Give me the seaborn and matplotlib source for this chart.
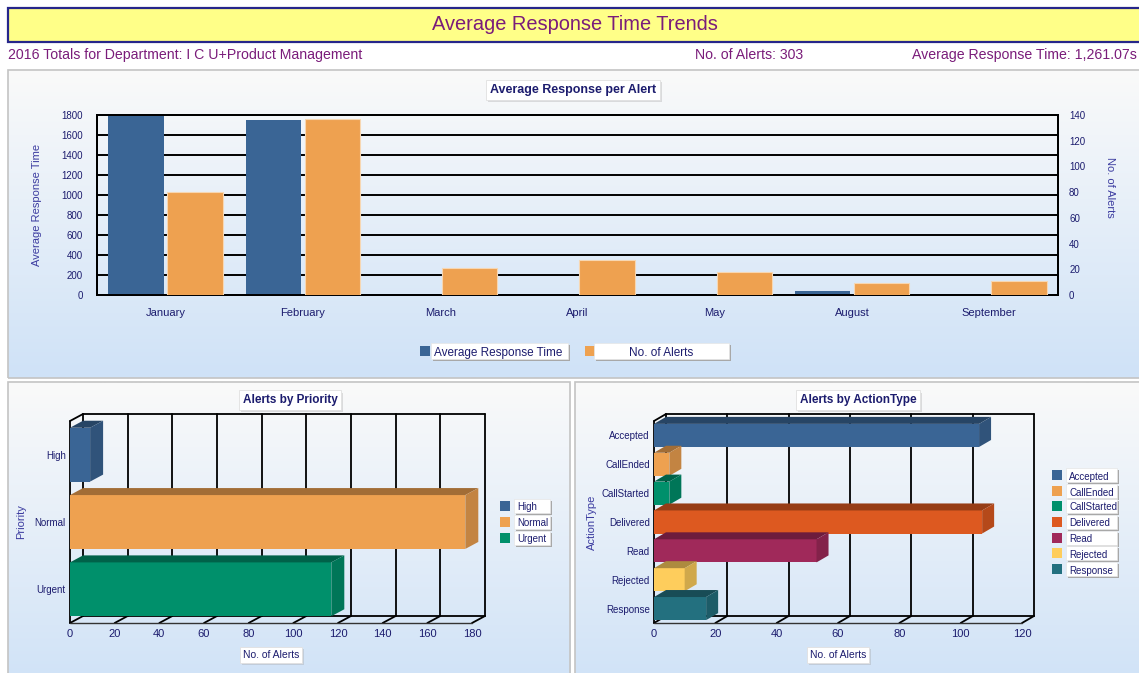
"""Average response time trends dashboard, recreated with seaborn."""

import matplotlib

matplotlib.use("Agg")  # headless backend
import matplotlib.patheffects as pe  # noqa: E402
import matplotlib.pyplot as plt  # noqa: E402
import numpy as np  # noqa: E402
import pandas as pd  # noqa: E402
import seaborn as sns  # noqa: E402
from matplotlib.colors import LinearSegmentedColormap, to_rgb  # noqa: E402
from matplotlib.patches import Polygon, Rectangle  # noqa: E402

# ---- data -------------------------------------------------------------
months = ["January", "February", "March", "April", "May", "August", "September"]
avg_response = [1790, 1750, 4, 4, 4, 40, 4]
alert_counts = [80, 137, 21, 27, 18, 9, 11]
series = ["Average Response Time", "No. of Alerts"]

priorities = ["High", "Normal", "Urgent"]
priority_counts = [9, 177, 117]

action_types = ["Accepted", "CallEnded", "CallStarted", "Delivered", "Read",
                "Rejected", "Response"]
action_counts = [106, 5, 5, 107, 53, 10, 17]

# ---- styling ----------------------------------------------------------
series_colors = ["#3a6595", "#eea150"]
priority_colors = ["#3a6595", "#eea150", "#00906b"]
action_colors = ["#3a6595", "#eea150", "#00906b", "#dd5920", "#a0295a",
                 "#fecd5c", "#23707f"]
NAVY = "#1c1c6e"
LABEL = "#3c3ca0"
PURPLE = "#7a1c7a"

sns.set_style("white")
plt.rcParams["font.family"] = ["Liberation Sans", "DejaVu Sans"]

W, H = 1139, 673
fig = plt.figure(figsize=(W / 100, H / 100), dpi=100, facecolor="white")


def rect(x0, y0, x1, y1):
    """Pixel box (top-left origin) -> figure fraction rect."""
    return [x0 / W, 1 - y1 / H, (x1 - x0) / W, (y1 - y0) / H]


def fig_box(x0, y0, x1, y1, **kw):
    fig.patches.append(Rectangle((x0 / W, 1 - y1 / H), (x1 - x0) / W,
                                 (y1 - y0) / H, transform=fig.transFigure, **kw))


panel_cmap = LinearSegmentedColormap.from_list("panel", ["#fafafa", "#cfe2f7"])


def panel(x0, y0, x1, y1):
    bg = fig.add_axes(rect(x0, y0, x1, y1), zorder=0)
    bg.imshow(np.linspace(0, 1, 256).reshape(-1, 1), aspect="auto",
              cmap=panel_cmap, extent=[0, 1, 0, 1])
    bg.set_axis_off()
    fig_box(x0, y0, x1, y1, fill=False, edgecolor="#c4c4c4", lw=1.2, zorder=1)


def boxed_title(x, y, text, size=8.5):
    t = fig.text(x / W, 1 - y / H, text, ha="center", va="center",
                 fontsize=size, fontweight="bold", color=NAVY, zorder=10,
                 bbox=dict(boxstyle="square,pad=0.3", fc="white", ec="#e0e0e0",
                           lw=0.6))
    t.get_bbox_patch().set_path_effects(
        [pe.SimplePatchShadow(offset=(1.5, -1.5), shadow_rgbFace="#9a9a9a"),
         pe.Normal()])
    return t


def legend_items(x_sq, x_box0, x_box1, ys, labels, colors, size=7, sq=10,
                 box_h=14, center=False):
    for y, label, color in zip(ys, labels, colors):
        fig_box(x_sq, y - sq / 2, x_sq + sq, y + sq / 2, fc=color, ec="none",
                zorder=9)
        fig_box(x_box0 + 1.5, y - box_h / 2 + 1.5, x_box1 + 1.5,
                y + box_h / 2 + 1.5, fc="#a8a8a8", ec="none", zorder=9)
        fig_box(x_box0, y - box_h / 2, x_box1, y + box_h / 2, fc="white",
                ec="#e6e6e6", lw=0.5, zorder=9)
        tx = (x_box0 + x_box1) / 2 if center else x_box0 + 3
        fig.text(tx / W, 1 - (y + 0.5) / H, label,
                 ha="center" if center else "left", va="center_baseline",
                 fontsize=size, color=NAVY, zorder=10)


# ---- header -----------------------------------------------------------
fig_box(8, 8, 1160, 42, fc="#ffff88", ec="#26268a", lw=1.6, zorder=5)
fig.text(575 / W, 1 - 24 / H, "Average Response Time Trends", ha="center",
         va="center", fontsize=14.4, color=PURPLE, zorder=6)
fig.text(8 / W, 1 - 55 / H, "2016 Totals for Department: I C U+Product Management",
         ha="left", va="center", fontsize=10.2, color=PURPLE)
fig.text(695 / W, 1 - 55 / H, "No. of Alerts: 303", ha="left", va="center",
         fontsize=10.2, color=PURPLE)
fig.text(1137 / W, 1 - 55 / H, "Average Response Time: 1,261.07s", ha="right",
         va="center", fontsize=10.2, color=PURPLE)

panel(8, 70, 1160, 378)
panel(8, 382, 570, 690)
panel(575, 382, 1160, 690)

# ---- top: average response per alert ------------------------------------
df_month = pd.DataFrame({"month": months, series[0]: avg_response,
                         series[1]: alert_counts})
long = df_month.melt(id_vars="month", var_name="series", value_name="value")

ax = fig.add_axes(rect(97, 115, 1058, 295), zorder=2)
ax.set_facecolor("none")
sns.barplot(data=long[long["series"] == series[0]], x="month", y="value",
            hue="series", hue_order=series, order=months, palette=series_colors,
            dodge=True, width=0.86, gap=0.06, saturation=1, legend=False,
            linewidth=0, ax=ax, zorder=3)
ax.set_ylim(0, 1800)
ax.set_yticks(range(0, 1801, 200))
ax.yaxis.grid(True, color="black", lw=1.4)
ax.set_axisbelow(True)

ax2 = ax.twinx()
sns.barplot(data=long[long["series"] == series[1]], x="month", y="value",
            hue="series", hue_order=series, order=months, palette=series_colors,
            dodge=True, width=0.86, gap=0.06, saturation=1, legend=False,
            linewidth=0.8, edgecolor="#f7d7b2", ax=ax2, zorder=3)
ax2.set_ylim(0, 140)
ax2.set_yticks(range(0, 141, 20))

for a in (ax, ax2):
    for s in a.spines.values():
        s.set_color("black")
        s.set_linewidth(1.4)
    a.tick_params(length=0, labelsize=7, labelcolor=NAVY)
ax.tick_params(axis="y", pad=10)
ax2.tick_params(axis="y", pad=8)
ax.tick_params(axis="x", pad=9, labelsize=8)
ax.set_xlabel("")
ax.set_ylabel("Average Response Time", fontsize=8, color=LABEL)
ax.yaxis.set_label_coords(-0.057, 0.5)
ax2.set_ylabel("No. of Alerts", fontsize=8, color=LABEL, rotation=-90,
               va="center")
ax2.yaxis.set_label_coords(1.054, 0.6)

boxed_title(573, 90, "Average Response per Alert", size=9)
legend_items(420, 431, 568, [351], [series[0]], [series_colors[0]], size=8.5,
             box_h=16)
legend_items(585, 594, 729, [351], [series[1]], [series_colors[1]], size=8.5,
             box_h=16, center=True)


# ---- bottom: pseudo-3D horizontal bars ----------------------------------
def shifted(a, xs, ys, dx, dy):
    disp = a.transData.transform(np.column_stack([xs, ys]))
    return a.transData.inverted().transform(disp + [dx, dy])


def darker(color, f):
    return tuple(c * f for c in to_rgb(color))


def bars_3d(a, labels, values, colors, xmax, step, dx=12, dy=7):
    frame = pd.DataFrame({"label": labels, "count": values})
    sns.barplot(data=frame, x="count", y="label", hue="label", order=labels,
                hue_order=labels, palette=colors, orient="h", width=0.8,
                saturation=1, legend=False, linewidth=0, ax=a, zorder=4)
    n = len(labels)
    a.set_xlim(0, xmax)
    a.set_ylim(n - 0.5, -0.5)
    a.set_facecolor("none")
    for s in a.spines.values():
        s.set_visible(False)
    ticks = np.arange(0, xmax + 1, step)
    line = dict(color="black", lw=1.3, clip_on=False, zorder=1)
    # back wall
    for t in ticks:
        p = shifted(a, [t, t], [n - 0.5, -0.5], dx, dy)
        a.plot(p[:, 0], p[:, 1], **line)
        q = np.vstack([[t, n - 0.5], shifted(a, [t], [n - 0.5], dx, dy)])
        a.plot(q[:, 0], q[:, 1], **line)
    for yy in (-0.5, n - 0.5):
        p = shifted(a, [0, xmax], [yy, yy], dx, dy)
        a.plot(p[:, 0], p[:, 1], **line)
    q = np.vstack([[0, -0.5], shifted(a, [0], [-0.5], dx, dy)])
    a.plot(q[:, 0], q[:, 1], **line)
    a.plot([0, 0], [-0.5, n - 0.5], **line)
    a.plot([0, xmax], [n - 0.5, n - 0.5], color="#333333", lw=1.0,
           clip_on=False, zorder=1)
    # depth faces of each bar
    for patch in list(a.patches):
        x0, w = patch.get_x(), patch.get_width()
        y0, h = patch.get_y(), patch.get_height()
        if w <= 0:
            continue
        x1 = x0 + w
        top, bot = min(y0, y0 + h), max(y0, y0 + h)
        back = shifted(a, [x0, x1, x1], [top, top, bot], dx, dy)
        fc = patch.get_facecolor()
        a.add_patch(Polygon([(x0, top), (x1, top), back[1], back[0]],
                            closed=True, fc=darker(fc, 0.68), ec="none",
                            zorder=4, clip_on=False))
        a.add_patch(Polygon([(x1, top), (x1, bot), back[2], back[1]],
                            closed=True, fc=darker(fc, 0.82), ec="none",
                            zorder=4, clip_on=False))
    a.set_xticks(ticks)
    a.tick_params(length=0, labelcolor=NAVY)
    a.tick_params(axis="x", labelsize=8, pad=4)
    a.tick_params(axis="y", labelsize=7, pad=3)


ax_p = fig.add_axes(rect(70, 421, 472, 623), zorder=2)
bars_3d(ax_p, priorities, priority_counts, priority_colors, 180, 20, dx=13)
ax_p.set_xlabel("No. of Alerts", fontsize=7.5, color=NAVY,
                bbox=dict(boxstyle="square,pad=0.3", fc="white", ec="#e0e0e0",
                          lw=0.6))
ax_p.xaxis.set_label_coords(0.5, -0.135)
ax_p.set_ylabel("Priority", fontsize=8, color=LABEL)
ax_p.yaxis.set_label_coords((26 - 70) / 402, 0.5)
boxed_title(290, 400, "Alerts by Priority")
legend_items(500, 514, 550, [506, 522, 538], priorities, priority_colors)

ax_a = fig.add_axes(rect(654, 421, 1022, 623), zorder=2)
bars_3d(ax_a, action_types, action_counts, action_colors, 120, 20)
ax_a.set_xlabel("No. of Alerts", fontsize=7.5, color=NAVY,
                bbox=dict(boxstyle="square,pad=0.3", fc="white", ec="#e0e0e0",
                          lw=0.6))
ax_a.xaxis.set_label_coords(0.5, -0.135)
ax_a.set_ylabel("ActionType", fontsize=8, color=LABEL)
ax_a.yaxis.set_label_coords((597 - 654) / 368, 0.5)
boxed_title(858, 400, "Alerts by ActionType")
legend_items(1052, 1066, 1117, [475, 491, 506, 522, 538, 553, 569],
             action_types, action_colors)

for a in (ax_p, ax_a):
    lab = a.xaxis.label
    lab.get_bbox_patch().set_path_effects(
        [pe.SimplePatchShadow(offset=(1.5, -1.5), shadow_rgbFace="#9a9a9a"),
         pe.Normal()])

fig.savefig("out.png", dpi=100)
